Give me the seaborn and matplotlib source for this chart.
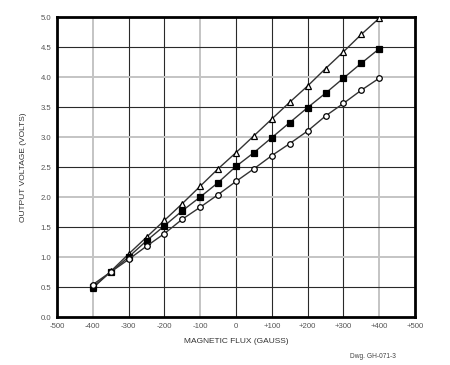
import pandas as pd
import matplotlib.pyplot as plt
import seaborn as sns

flux = [-400, -350, -300, -250, -200, -150, -100, -50, 0, 50, 100, 150, 200, 250, 300, 350, 400]

v_triangle = [0.48, 0.76, 1.05, 1.33, 1.61, 1.89, 2.18, 2.47, 2.74, 3.02, 3.30, 3.58, 3.85, 4.14, 4.42, 4.71, 4.98]
v_square = [0.50, 0.75, 1.00, 1.27, 1.52, 1.77, 2.00, 2.24, 2.51, 2.74, 2.99, 3.24, 3.49, 3.73, 3.98, 4.23, 4.47]
v_circle = [0.54, 0.75, 0.96, 1.18, 1.39, 1.63, 1.83, 2.04, 2.26, 2.47, 2.69, 2.89, 3.10, 3.35, 3.56, 3.78, 3.98]

x_ticks = [-500, -400, -300, -200, -100, 0, 100, 200, 300, 400, 500]
x_labels = ["-500", "-400", "-300", "-200", "-100", "0", "+100", "+200", "+300", "+400", "+500"]
y_ticks = [0.0, 0.5, 1.0, 1.5, 2.0, 2.5, 3.0, 3.5, 4.0, 4.5, 5.0]

sns.set_style("white")
plt.rcParams["font.family"] = ["Liberation Sans", "DejaVu Sans"]

fig = plt.figure(figsize=(4.5, 3.65), dpi=100)
ax = fig.add_axes([57 / 450, 48 / 365, 358 / 450, 300 / 365])

# grid, some lines lighter like the scanned drawing
gray_x = [-400, -100, 400]
gray_y = [1.0, 2.0, 3.0, 4.0]
for xv in x_ticks[1:-1]:
    ax.axvline(xv, color="#c4c4c4" if xv in gray_x else "#2a2a2a",
               lw=1.4 if xv in gray_x else 0.8, zorder=0)
for yv in y_ticks[1:-1]:
    ax.axhline(yv, color="#c4c4c4" if yv in gray_y else "#2a2a2a",
               lw=1.4 if yv in gray_y else 0.8, zorder=0)

series = [
    (v_triangle, "^", "white"),
    (v_square, "s", "black"),
    (v_circle, "o", "white"),
]
for vals, mk, fc in series:
    df = pd.DataFrame({"flux": flux, "volts": vals})
    sns.lineplot(data=df, x="flux", y="volts", ax=ax, color="#333333", lw=1.0,
                 marker=mk, markersize=4.0, markerfacecolor=fc,
                 markeredgecolor="black", markeredgewidth=0.9, zorder=3)

ax.set_xlim(-500, 500)
ax.set_ylim(0, 5)
ax.set_xticks(x_ticks)
ax.set_xticklabels(x_labels)
ax.set_yticks(y_ticks)
ax.set_yticklabels([f"{v:.1f}" for v in y_ticks])
ax.tick_params(axis="both", length=0, labelsize=5.6, labelcolor="#555555", pad=4)

for s in ax.spines.values():
    s.set_visible(True)
    s.set_color("black")
    s.set_linewidth(2.0)

ax.set_xlabel("MAGNETIC FLUX (GAUSS)", fontsize=6, color="#333333", labelpad=6)
ax.set_ylabel("OUTPUT VOLTAGE (VOLTS)", fontsize=6, color="#333333", labelpad=10)

fig.text(0.88, 0.02, "Dwg. GH-071-3", fontsize=4.8, color="#444444", ha="right")

fig.savefig("out.png", dpi=100, facecolor="white")
